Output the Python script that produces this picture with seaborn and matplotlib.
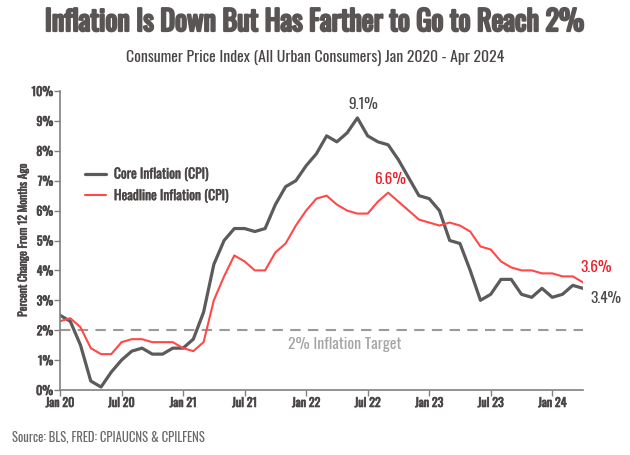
import matplotlib
matplotlib.use("Agg")
import matplotlib.pyplot as plt
from matplotlib import font_manager as fm
import matplotlib.patheffects as pe
import seaborn as sns
import pandas as pd
import numpy as np

months = pd.date_range("2020-01-01", "2024-04-01", freq="MS")
core_label = "Core Inflation (CPI)"
headline_label = "Headline Inflation (CPI)"
core_values = [2.5, 2.3, 1.5, 0.3, 0.1, 0.6, 1.0, 1.3, 1.4, 1.2, 1.2, 1.4,
               1.4, 1.7, 2.6, 4.2, 5.0, 5.4, 5.4, 5.3, 5.4, 6.2, 6.8, 7.0,
               7.5, 7.9, 8.5, 8.3, 8.6, 9.1, 8.5, 8.3, 8.2, 7.7, 7.1, 6.5,
               6.4, 6.0, 5.0, 4.9, 4.0, 3.0, 3.2, 3.7, 3.7, 3.2, 3.1, 3.4,
               3.1, 3.2, 3.5, 3.4]
headline_values = [2.3, 2.4, 2.1, 1.4, 1.2, 1.2, 1.6, 1.7, 1.7, 1.6, 1.6, 1.6,
                   1.4, 1.3, 1.6, 3.0, 3.8, 4.5, 4.3, 4.0, 4.0, 4.6, 4.9, 5.5,
                   6.0, 6.4, 6.5, 6.2, 6.0, 5.9, 5.9, 6.3, 6.6, 6.3, 6.0, 5.7,
                   5.6, 5.5, 5.6, 5.5, 5.3, 4.8, 4.7, 4.3, 4.1, 4.0, 4.0, 3.9,
                   3.9, 3.8, 3.8, 3.6]
tick_labels = ["Jan 20", "Jul 20", "Jan 21", "Jul 21", "Jan 22", "Jul 22",
               "Jan 23", "Jul 23", "Jan 24"]
target = 2.0

installed = {f.name for f in fm.fontManager.ttflist}
cands = ['Oswald', 'Roboto Condensed', 'Archivo Narrow', 'PT Sans Narrow',
         'Liberation Sans Narrow', 'Open Sans Condensed', 'DejaVu Sans']
FONT = next(c for c in cands if c in installed)

sns.set_theme(style="white")
plt.rcParams['font.family'] = [FONT, 'DejaVu Sans']

GRAY = "#5b5b5b"
RED = "#ff4848"
TXT = "#4a4646"

def bolden(t, w, color):
    t.set_path_effects([pe.withStroke(linewidth=w, foreground=color)])

df = pd.DataFrame({"idx": np.arange(len(months)),
                   core_label: core_values,
                   headline_label: headline_values})
long = df.melt(id_vars="idx", var_name="series", value_name="value")

fig = plt.figure(figsize=(6.3, 4.55), dpi=100)
ax = fig.add_axes([60/630, 1-390/455, (583-60)/630, (390-91)/455])

sns.lineplot(data=long, x="idx", y="value", hue="series", size="series",
             palette={core_label: GRAY, headline_label: RED},
             sizes={core_label: 2.3, headline_label: 1.5},
             ax=ax, legend=False)

ax.axhline(target, color="#9a9a9a", lw=1.5, ls=(0, (5, 3.5)), zorder=0)
ax.text(22.2, 1.78, "2% Inflation Target", color="#a5a5a5", fontsize=11.4,
        ha="left", va="top")

ax.set_xlim(0, len(months) - 1)
ax.set_ylim(0, 10)
ax.set_xticks(np.arange(0, len(months), 6))
ax.set_xticklabels(tick_labels, fontsize=8.7, color=TXT)
ax.set_yticks(np.arange(0, 11, 1))
ax.set_yticklabels([f"{v}%" for v in range(11)], fontsize=8.7, color=TXT)
for t in ax.get_xticklabels() + ax.get_yticklabels():
    bolden(t, 0.5, TXT)
ax.tick_params(axis="both", length=4, width=1, color="#808080", pad=1,
               bottom=True, left=True)
for s in ["top", "right"]:
    ax.spines[s].set_visible(False)
for s in ["left", "bottom"]:
    ax.spines[s].set_color("#808080")
    ax.spines[s].set_linewidth(1.2)
ax.set_xlabel("")
ax.set_ylabel("Percent Change From 12 Months Ago", fontsize=8.3, color=TXT,
              labelpad=2)
bolden(ax.yaxis.label, 0.4, TXT)

# annotations
ci = int(np.argmax(core_values))
ax.text(ci + 0.6, core_values[ci] + 0.2, f"{core_values[ci]}%", color="#4a4a4a",
        fontsize=11, ha="center", va="bottom")
hi = int(np.argmax(headline_values))
ax.text(hi + 0.2, headline_values[hi] + 0.2, f"{headline_values[hi]}%", color="#e8202a",
        fontsize=11, ha="center", va="bottom")
ax.text(len(months) - 1 + 1.3, headline_values[-1] + 0.25,
        f"{headline_values[-1]}%", color="#e8202a", fontsize=11,
        ha="center", va="bottom", clip_on=False)
ax.text(len(months) - 1 + 2.2, core_values[-1] - 0.1, f"{core_values[-1]}%",
        color="#4a4a4a", fontsize=11, ha="center", va="top", clip_on=False)

# legend
from matplotlib.lines import Line2D
handles = [Line2D([], [], color=GRAY, lw=2.3), Line2D([], [], color=RED, lw=1.5)]
leg = ax.legend(handles, [core_label, headline_label], loc="upper left",
                bbox_to_anchor=(0.025, 0.785), frameon=False, fontsize=9.8,
                handlelength=1.5, handletextpad=0.6, labelspacing=0.55,
                labelcolor=TXT)
for t in leg.get_texts():
    bolden(t, 0.3, TXT)

title = fig.text(0.5, 1-22/455, "Inflation Is Down But Has Farther to Go to Reach 2%",
                 ha="center", va="center", fontsize=24, color="#5a5555")
sub = fig.text(0.5, 1-58/455, "Consumer Price Index (All Urban Consumers) Jan 2020 - Apr 2024",
               ha="center", va="center", fontsize=12, color=TXT)
src = fig.text(12/630, 1-437/455, "Source: BLS, FRED: CPIAUCNS & CPILFENS",
               ha="left", va="center", fontsize=10.5, color="#6a6a6a")

# fit text widths to reference
r = fig.canvas.get_renderer()
for t, target_w in [(title, 540), (sub, 380), (src, 194)]:
    w = t.get_window_extent(r).width
    t.set_fontsize(t.get_fontsize() * target_w / w)
bolden(title, 1.6, "#5a5555")

fig.savefig("out.png", dpi=100, facecolor="white")
